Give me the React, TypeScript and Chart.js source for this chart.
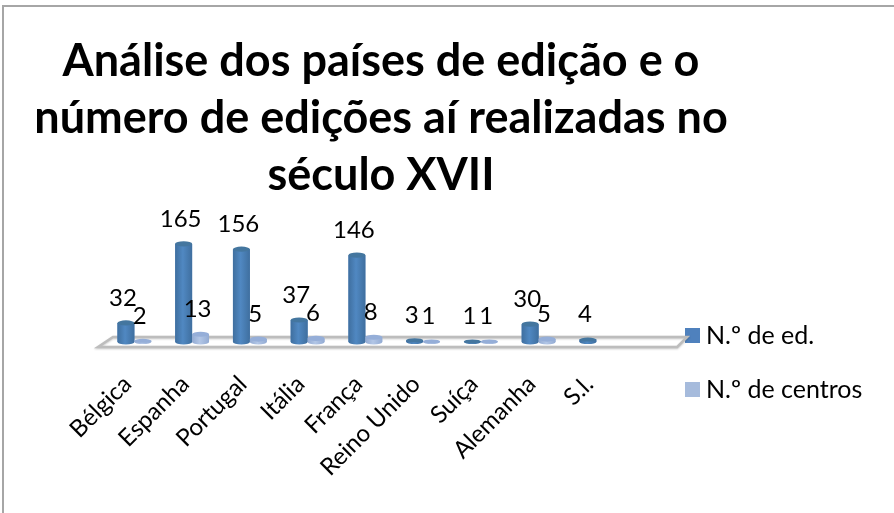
import React, { useEffect, useRef } from "react";
import { Chart, registerables } from "chart.js";

Chart.register(...registerables);

const titleLines = ["Análise dos países de edição e o", "número de edições aí realizadas no", "século XVII"];
const categories = ["Bélgica", "Espanha", "Portugal", "Itália", "França", "Reino Unido", "Suíça", "Alemanha", "S.l."];
const edicoes = [32, 165, 156, 37, 146, 3, 1, 30, 4];
const centros = [2, 13, 5, 6, 8, 1, 1, 5, null];
const seriesNames = ["N.º de ed.", "N.º de centros"];
const legendColors = ["#4f81bd", "#a6bbdc"];

const FONT = "Lato, 'Open Sans', sans-serif";

const makeSwatch = (color: string) => {
  const c = document.createElement("canvas");
  c.width = 15;
  c.height = 15;
  const g = c.getContext("2d");
  if (g) {
    g.fillStyle = color;
    g.fillRect(0, 0, 15, 15);
  }
  return c;
};

const framePlugin = {
  id: "frame",
  beforeDraw(chart: any) {
    const { ctx, width, height } = chart;
    ctx.save();
    ctx.fillStyle = "#ffffff";
    ctx.fillRect(0, 0, width, height);
    ctx.strokeStyle = "#a6a6a6";
    ctx.lineWidth = 2;
    ctx.beginPath();
    ctx.moveTo(3, height);
    ctx.lineTo(3, 6);
    ctx.lineTo(width, 6);
    ctx.stroke();
    ctx.restore();
  },
  afterLayout(chart: any) {
    chart.titleBlock.left = 0;
    chart.titleBlock.right = 762;
    chart.legend.left = 691.5 - 29;
    chart.legend.top = 294;
    chart.legend.right = chart.width;
    chart.legend.bottom = chart.height;
  },
  beforeDatasetsDraw(chart: any) {
    const { ctx, chartArea } = chart;
    const b = chartArea.bottom;
    ctx.save();
    ctx.strokeStyle = "#bdbdbd";
    ctx.lineWidth = 2.5;
    ctx.shadowColor = "rgba(0,0,0,0.2)";
    ctx.shadowBlur = 2;
    ctx.shadowOffsetY = 1;
    ctx.beginPath();
    ctx.moveTo(chartArea.left - 7.5, b + 5);
    ctx.lineTo(chartArea.left + 7.5, b - 5);
    ctx.lineTo(chartArea.right + 62, b - 5);
    ctx.lineTo(chartArea.right + 52, b + 5);
    ctx.closePath();
    ctx.stroke();
    ctx.restore();
  },
};

const palettes = [
  { edge: "#3f6f9f", mid: "#5088c2", cap: "#44769f" },
  { edge: "#93abd3", mid: "#b2c6e6", cap: "#95aed8" },
];

const cylinderPlugin = {
  id: "cylinder",
  afterDatasetsDraw(chart: any) {
    const { ctx } = chart;
    const base = chart.scales.y.getPixelForValue(0);
    chart.data.datasets.forEach((ds: any, i: number) => {
      const pal = palettes[i];
      chart.getDatasetMeta(i).data.forEach((bar: any, j: number) => {
        const v = ds.data[j];
        if (v == null) return;
        const w = bar.width;
        const left = bar.x - w / 2;
        const grad = ctx.createLinearGradient(left, 0, left + w, 0);
        grad.addColorStop(0, pal.edge);
        grad.addColorStop(0.45, pal.mid);
        grad.addColorStop(1, pal.edge);
        const ry = v < 5 ? 2 : 2.6;
        ctx.save();
        ctx.fillStyle = grad;
        ctx.beginPath();
        ctx.ellipse(bar.x, base, w / 2, ry, 0, 0, Math.PI * 2);
        ctx.rect(left, bar.y, w, base - bar.y);
        ctx.fill();
        ctx.fillStyle = pal.cap;
        ctx.beginPath();
        ctx.ellipse(bar.x, bar.y, w / 2, ry, 0, 0, Math.PI * 2);
        ctx.fill();
        ctx.restore();
        ctx.save();
        ctx.fillStyle = "#000000";
        ctx.font = `24px ${FONT}`;
        ctx.textAlign = "center";
        ctx.textBaseline = "middle";
        ctx.fillText(String(v), bar.x - 3, bar.y - 25);
        ctx.restore();
      });
    });
  },
};

export default function App() {
  const ref = useRef<HTMLCanvasElement | null>(null);
  useEffect(() => {
    if (!ref.current) return;
    const swatches = legendColors.map(makeSwatch);
    const chart = new Chart(ref.current, {
      type: "bar",
      data: {
        labels: categories,
        datasets: [
          { label: seriesNames[0], data: edicoes, backgroundColor: legendColors[0], borderWidth: 0 },
          { label: seriesNames[1], data: centros, backgroundColor: legendColors[1], borderWidth: 0 },
        ],
      },
      plugins: [framePlugin, cylinderPlugin],
      options: {
        animation: false,
        responsive: false,
        layout: { padding: { left: 105.5, right: 59, top: 0, bottom: 0 } },
        datasets: { bar: { categoryPercentage: 0.586, barPercentage: 1 } },
        plugins: {
          title: {
            display: true,
            text: titleLines,
            color: "#000000",
            font: { family: FONT, size: 45, weight: "bold", lineHeight: 1.27 },
            padding: { top: 32.5, bottom: 31 },
          },
          legend: {
            display: true,
            position: "right",
            align: "start",
            labels: {
              usePointStyle: true,
              boxWidth: 2,
              boxHeight: 15,
              padding: 29,
              color: "#000000",
              font: { family: FONT, size: 25 },
              generateLabels(c: any) {
                return Chart.defaults.plugins.legend.labels
                  .generateLabels(c)
                  .map((item: any, i: number) => ({ ...item, pointStyle: swatches[i] }));
              },
            },
          },
          tooltip: { enabled: false },
        },
        scales: {
          x: {
            grid: { display: false },
            border: { display: false },
            ticks: {
              autoSkip: false,
              minRotation: 45,
              maxRotation: 45,
              padding: 20,
              labelOffset: -7,
              color: "#000000",
              font: { family: FONT, size: 24 },
            },
            afterFit(s: any) {
              s.height = 171;
            },
          },
          y: { display: false, min: 0, max: 180 },
        },
      },
    } as any);
    return () => chart.destroy();
  }, []);
  return (
    <canvas
      ref={ref}
      width={894}
      height={513}
      style={{ position: "absolute", left: 0, top: 0, width: 894, height: 513, display: "block" }}
    />
  );
}
